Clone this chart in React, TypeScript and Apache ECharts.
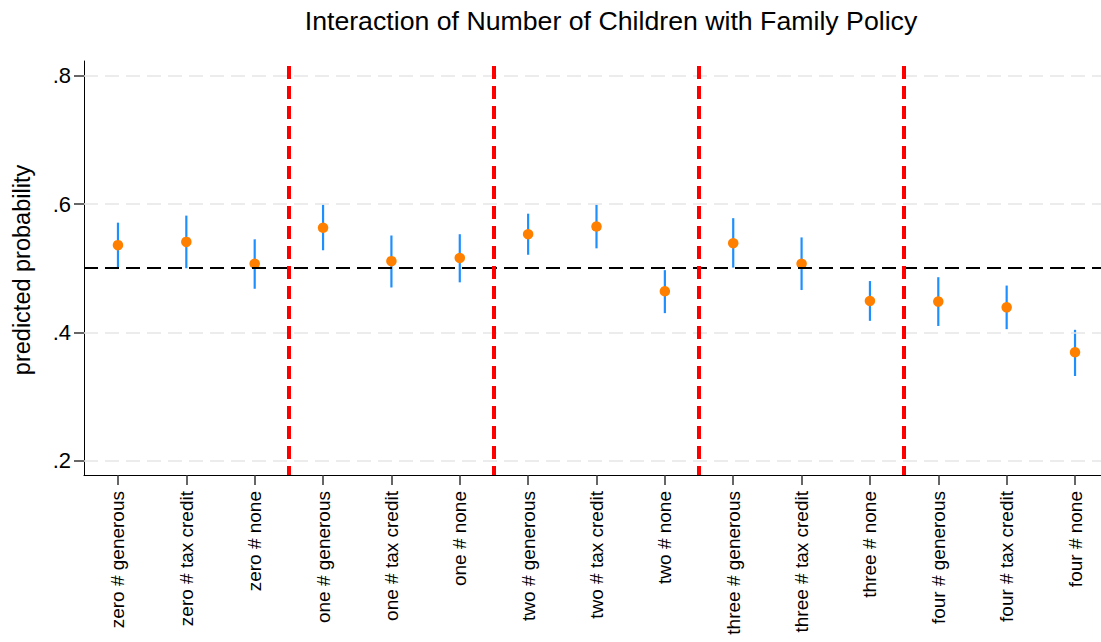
import React, { useEffect, useRef } from "react";
import * as echarts from "echarts";

const categories = [
  "zero # generous", "zero # tax credit", "zero # none",
  "one # generous", "one # tax credit", "one # none",
  "two # generous", "two # tax credit", "two # none",
  "three # generous", "three # tax credit", "three # none",
  "four # generous", "four # tax credit", "four # none",
];
const estimates = [0.536, 0.541, 0.507, 0.563, 0.511, 0.516, 0.553, 0.565, 0.464, 0.539, 0.507, 0.449, 0.448, 0.439, 0.369];
const lower = [0.500, 0.500, 0.468, 0.528, 0.470, 0.478, 0.521, 0.531, 0.430, 0.501, 0.466, 0.418, 0.410, 0.405, 0.332];
const upper = [0.571, 0.582, 0.545, 0.599, 0.551, 0.553, 0.585, 0.599, 0.497, 0.578, 0.548, 0.480, 0.486, 0.473, 0.404];
const yTicks = [0.2, 0.4, 0.6, 0.8];
const groupSeparators = [3.5, 6.5, 9.5, 12.5];
const referenceValue = 0.5;

const Y_MIN = 0.1777;
const Y_MAX = 0.823;
const X_MIN = 0.503;
const X_MAX = 15.38;
const FONT = "'Liberation Sans', Arial, Helvetica, sans-serif";

export default function App() {
  const ref = useRef<HTMLDivElement>(null);
  useEffect(() => {
    document.body.style.margin = "0";
    if (!ref.current) return;
    const chart = echarts.init(ref.current, null, { renderer: "svg" });
    const xs = categories.map((_, i) => i + 1);
    const option: any = {
      animation: false,
      backgroundColor: "#ffffff",
      textStyle: { fontFamily: FONT },
      grid: { left: 84, right: 0, top: 61, bottom: 167, containLabel: false },
      xAxis: {
        type: "value",
        min: X_MIN,
        max: X_MAX,
        axisLine: { show: true, lineStyle: { color: "#000", width: 1 } },
        axisTick: { show: true, length: 10, lineStyle: { color: "#333", width: 1.5 }, customValues: xs },
        axisLabel: {
          show: true,
          customValues: xs,
          rotate: 90,
          margin: 16,
          fontSize: 19,
          color: "#000",
          fontFamily: FONT,
          formatter: (v: number) => categories[Math.round(v) - 1] ?? "",
        },
        splitLine: { show: false },
      },
      yAxis: {
        type: "value",
        min: Y_MIN,
        max: Y_MAX,
        axisLine: { show: true, lineStyle: { color: "#000", width: 1 } },
        axisTick: { show: true, length: 10, lineStyle: { color: "#333", width: 1.5 }, customValues: yTicks },
        axisLabel: {
          show: true,
          customValues: yTicks,
          margin: 13,
          fontSize: 22,
          color: "#000",
          fontFamily: FONT,
          formatter: (v: number) => String(Math.round(v * 10) / 10).replace(/^0/, ""),
        },
        splitLine: { show: false },
      },
      series: [
        {
          type: "line",
          data: [],
          silent: true,
          z: 1,
          markLine: {
            silent: true,
            symbol: ["none", "none"],
            label: { show: false },
            emphasis: { disabled: true },
            data: yTicks.map((v) => ({
              yAxis: v,
              lineStyle: { color: "#e6e6e6", width: 1.5, type: [14, 7] },
            })),
          },
        },
        {
          type: "custom",
          z: 2,
          data: xs.map((x, i) => [x, lower[i], upper[i]]),
          encode: { x: 0, y: [1, 2] },
          renderItem: (params: any, api: any) => {
            const x = api.value(0);
            const p1 = api.coord([x, api.value(1)]);
            const p2 = api.coord([x, api.value(2)]);
            return {
              type: "line",
              shape: { x1: p1[0], y1: p1[1], x2: p2[0], y2: p2[1] },
              style: { stroke: "#1e8fff", lineWidth: 2.2 },
            };
          },
          markLine: {
            silent: true,
            symbol: ["none", "none"],
            label: { show: false },
            emphasis: { disabled: true },
            data: [
              {
                yAxis: referenceValue,
                lineStyle: { color: "#000", width: 2, type: [14, 7] },
              },
              ...groupSeparators.map((x) => [
                { coord: [x, Y_MAX], lineStyle: { color: "#ff0000", width: 4, type: [13, 7], dashOffset: -5 } },
                { coord: [x, Y_MIN] },
              ]),
            ],
          },
        },
        {
          type: "scatter",
          z: 3,
          symbol: "circle",
          symbolSize: 10.5,
          itemStyle: { color: "#ff8000", opacity: 1 },
          data: xs.map((x, i) => [x, estimates[i]]),
        },
      ],
      graphic: [
        {
          type: "text",
          x: 611,
          y: 21,
          style: {
            text: "Interaction of Number of Children with Family Policy",
            fontSize: 26.7,
            fontFamily: FONT,
            fill: "#000",
            textAlign: "center",
            textVerticalAlign: "middle",
          },
        },
        {
          type: "text",
          x: 22,
          y: 270,
          rotation: Math.PI / 2,
          style: {
            text: "predicted probability",
            fontSize: 23.5,
            fontFamily: FONT,
            fill: "#000",
            textAlign: "center",
            textVerticalAlign: "middle",
          },
        },
      ],
    };
    chart.setOption(option);
    return () => chart.dispose();
  }, []);
  return <div ref={ref} style={{ width: 1101, height: 642 }} />;
}
